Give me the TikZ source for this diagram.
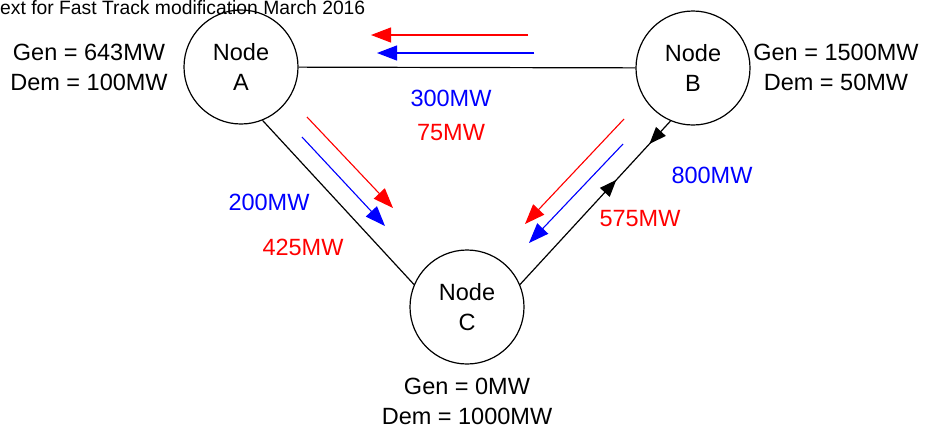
\documentclass[tikz,border=0pt]{standalone}
\usepackage{fontspec}
\setmainfont{Liberation Sans}
\usetikzlibrary{arrows.meta,decorations.markings}
\definecolor{fred}{RGB}{255,0,0}
\definecolor{fblue}{RGB}{0,0,255}
\begin{document}
\begin{tikzpicture}[x=1pt,y=-1pt,
  bus/.style={circle,draw,line width=1.2pt,minimum size=114pt,inner sep=0pt,align=center,
    font=\fontsize{23.5}{30}\selectfont},
  info/.style={align=center,font=\fontsize{23.5}{30}\selectfont,inner sep=0pt},
  lbl/.style={font=\fontsize{23.5}{28}\selectfont,inner sep=0pt},
  line/.style={draw,line width=1.2pt},
  redarr/.style={draw=fred,line width=1.1pt,-{Triangle[length=20pt,width=15pt]},fill=fred},
  bluearr/.style={draw=fblue,line width=1.1pt,-{Triangle[length=20pt,width=15pt]},fill=fblue},
  flowmarks/.style={decoration={markings,
      mark=at position 0.64 with {\arrow{Triangle[length=17pt,width=13pt]}},
      mark=at position 0.86 with {\arrowreversed{Triangle[length=17pt,width=13pt]}}},
    postaction={decorate}}
]
\useasboundingbox (0,0) rectangle (927,432);

\node[anchor=base west,inner sep=0pt,font=\fontsize{19.3}{22}\selectfont] (title) at (0,14) {ext for Fast Track modification March 2016};

\node[bus] (A) at (241,67) {Node\\A};
\node[bus] (B) at (693,68) {Node\\B};
\node[bus] (C) at (467,307) {Node\\C};

\node[info] (ainfo) at (89,67) {Gen = 643MW\\Dem = 100MW};
\node[info] (binfo) at (836,67) {Gen = 1500MW\\Dem = 50MW};
\node[info] (cinfo) at (467,401) {Gen = 0MW\\Dem = 1000MW};

\draw[line] (A) -- (B);
\draw[line] (A.-68) -- (C.157);
\draw[line,flowmarks] (C.23) -- (B.-113);

% flow arrows A-B
\coordinate (r1s) at (528,35); \coordinate (r1e) at (371,35);
\coordinate (b1s) at (534,53); \coordinate (b1e) at (377,53);
\draw[redarr] (r1s) -- (r1e);
\draw[bluearr] (b1s) -- (b1e);

% flow arrows A-C
\coordinate (r2s) at (307,117); \coordinate (r2e) at (393,208);
\coordinate (b2s) at (302,137); \coordinate (b2e) at (385,226);
\draw[redarr] (r2s) -- (r2e);
\draw[bluearr] (b2s) -- (b2e);

% flow arrows B-C
\coordinate (r3s) at (624,119); \coordinate (r3e) at (525,224);
\coordinate (b3s) at (623,144); \coordinate (b3e) at (529,243);
\draw[redarr] (r3s) -- (r3e);
\draw[bluearr] (b3s) -- (b3e);

\node[lbl,text=fblue] (l300) at (451,98) {300MW};
\node[lbl,text=fred] (l75) at (451,133) {75MW};
\node[lbl,text=fblue] (l200) at (269,202) {200MW};
\node[lbl,text=fred] (l425) at (303,247) {425MW};
\node[lbl,text=fblue] (l800) at (712,175) {800MW};
\node[lbl,text=fred] (l575) at (640,219) {575MW};
\end{tikzpicture}
\end{document}
